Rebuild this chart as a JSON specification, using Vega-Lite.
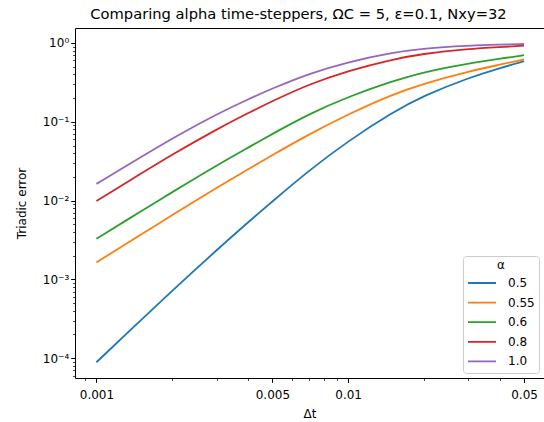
{
  "$schema": "https://vega.github.io/schema/vega-lite/v6.json",
  "width": 469,
  "height": 350,
  "autosize": {"type": "none"},
  "padding": {"left": 75, "top": 28, "right": 0, "bottom": 44},
  "background": "white",
  "title": {
    "text": "Comparing alpha time-steppers, ΩC = 5, ε=0.1, Nxy=32",
    "font": "DejaVu Sans",
    "fontSize": 14.7,
    "fontWeight": "normal",
    "color": "black",
    "anchor": "middle",
    "frame": "group",
    "dx": -11,
    "dy": 16,
    "baseline": "alphabetic",
    "offset": 10
  },
  "config": {
    "view": {"stroke": null},
    "font": "DejaVu Sans",
    "axis": {
      "grid": false,
      "domainColor": "black",
      "domainWidth": 1,
      "tickColor": "black",
      "labelColor": "black",
      "labelFont": "DejaVu Sans",
      "labelFontSize": 12,
      "titleFont": "DejaVu Sans",
      "titleFontSize": 12,
      "titleFontWeight": "normal",
      "titleColor": "black"
    }
  },
  "data": {
    "values": [
      {"alpha": "0.5", "dt": 0.001, "err": 0.0000887},
      {"alpha": "0.5", "dt": 0.0015, "err": 0.000303},
      {"alpha": "0.5", "dt": 0.002, "err": 0.000717},
      {"alpha": "0.5", "dt": 0.003, "err": 0.00235},
      {"alpha": "0.5", "dt": 0.004, "err": 0.00528},
      {"alpha": "0.5", "dt": 0.005, "err": 0.00977},
      {"alpha": "0.5", "dt": 0.007, "err": 0.0242},
      {"alpha": "0.5", "dt": 0.01, "err": 0.057},
      {"alpha": "0.5", "dt": 0.015, "err": 0.132},
      {"alpha": "0.5", "dt": 0.02, "err": 0.215},
      {"alpha": "0.5", "dt": 0.03, "err": 0.36},
      {"alpha": "0.5", "dt": 0.04, "err": 0.48},
      {"alpha": "0.5", "dt": 0.05, "err": 0.588},
      {"alpha": "0.55", "dt": 0.001, "err": 0.001642},
      {"alpha": "0.55", "dt": 0.0015, "err": 0.003685},
      {"alpha": "0.55", "dt": 0.002, "err": 0.00653},
      {"alpha": "0.55", "dt": 0.003, "err": 0.01457},
      {"alpha": "0.55", "dt": 0.004, "err": 0.02485},
      {"alpha": "0.55", "dt": 0.005, "err": 0.03784},
      {"alpha": "0.55", "dt": 0.007, "err": 0.0694},
      {"alpha": "0.55", "dt": 0.01, "err": 0.1245},
      {"alpha": "0.55", "dt": 0.015, "err": 0.2232},
      {"alpha": "0.55", "dt": 0.02, "err": 0.305},
      {"alpha": "0.55", "dt": 0.03, "err": 0.4352},
      {"alpha": "0.55", "dt": 0.04, "err": 0.53},
      {"alpha": "0.55", "dt": 0.05, "err": 0.6197},
      {"alpha": "0.6", "dt": 0.001, "err": 0.00328},
      {"alpha": "0.6", "dt": 0.0015, "err": 0.00728},
      {"alpha": "0.6", "dt": 0.002, "err": 0.01282},
      {"alpha": "0.6", "dt": 0.003, "err": 0.0279},
      {"alpha": "0.6", "dt": 0.004, "err": 0.0469},
      {"alpha": "0.6", "dt": 0.005, "err": 0.0702},
      {"alpha": "0.6", "dt": 0.007, "err": 0.126},
      {"alpha": "0.6", "dt": 0.01, "err": 0.208},
      {"alpha": "0.6", "dt": 0.015, "err": 0.328},
      {"alpha": "0.6", "dt": 0.02, "err": 0.43},
      {"alpha": "0.6", "dt": 0.03, "err": 0.55},
      {"alpha": "0.6", "dt": 0.04, "err": 0.63},
      {"alpha": "0.6", "dt": 0.05, "err": 0.70},
      {"alpha": "0.8", "dt": 0.001, "err": 0.00986},
      {"alpha": "0.8", "dt": 0.0015, "err": 0.0219},
      {"alpha": "0.8", "dt": 0.002, "err": 0.0385},
      {"alpha": "0.8", "dt": 0.003, "err": 0.080},
      {"alpha": "0.8", "dt": 0.004, "err": 0.129},
      {"alpha": "0.8", "dt": 0.005, "err": 0.183},
      {"alpha": "0.8", "dt": 0.007, "err": 0.30},
      {"alpha": "0.8", "dt": 0.01, "err": 0.445},
      {"alpha": "0.8", "dt": 0.015, "err": 0.62},
      {"alpha": "0.8", "dt": 0.02, "err": 0.735},
      {"alpha": "0.8", "dt": 0.03, "err": 0.84},
      {"alpha": "0.8", "dt": 0.04, "err": 0.888},
      {"alpha": "0.8", "dt": 0.05, "err": 0.924},
      {"alpha": "1.0", "dt": 0.001, "err": 0.0163},
      {"alpha": "1.0", "dt": 0.0015, "err": 0.0355},
      {"alpha": "1.0", "dt": 0.002, "err": 0.0615},
      {"alpha": "1.0", "dt": 0.003, "err": 0.125},
      {"alpha": "1.0", "dt": 0.004, "err": 0.193},
      {"alpha": "1.0", "dt": 0.005, "err": 0.265},
      {"alpha": "1.0", "dt": 0.007, "err": 0.41},
      {"alpha": "1.0", "dt": 0.01, "err": 0.575},
      {"alpha": "1.0", "dt": 0.015, "err": 0.755},
      {"alpha": "1.0", "dt": 0.02, "err": 0.855},
      {"alpha": "1.0", "dt": 0.03, "err": 0.925},
      {"alpha": "1.0", "dt": 0.04, "err": 0.954},
      {"alpha": "1.0", "dt": 0.05, "err": 0.971}
    ]
  },
  "layer": [
    {
      "mark": {"type": "line", "strokeWidth": 1.8, "interpolate": "basis"},
      "encoding": {
        "x": {
          "field": "dt",
          "type": "quantitative",
          "scale": {"type": "log", "domain": [0.000822, 0.06], "nice": false},
          "axis": {
            "orient": "bottom",
            "title": "Δt",
            "titleX": 234.5,
            "titleY": 39,
            "titleAlign": "center",
            "titleBaseline": "alphabetic",
            "values": [0.0009, 0.001, 0.002, 0.003, 0.004, 0.005, 0.006, 0.007, 0.008, 0.009, 0.01, 0.02, 0.03, 0.04, 0.05],
            "labelExpr": "indexof([0.001, 0.005, 0.01, 0.05], datum.value) >= 0 ? format(datum.value, '~g') : ''",
            "tickSize": {"condition": {"test": "indexof([0.001, 0.005, 0.01, 0.05], datum.value) >= 0", "value": 4.3}, "value": 2.4},
            "tickWidth": {"condition": {"test": "indexof([0.001, 0.005, 0.01, 0.05], datum.value) >= 0", "value": 1}, "value": 0.75},
            "labelPadding": 7,
            "labelFlush": false,
            "labelOverlap": false
          }
        },
        "y": {
          "field": "err",
          "type": "quantitative",
          "scale": {"type": "log", "domain": [0.000056, 1.55], "nice": false},
          "axis": {
            "title": "Triadic error",
            "titleX": -54,
            "titleY": 175,
            "titleAngle": -90,
            "titleAlign": "center",
            "titleBaseline": "middle",
            "values": [0.00006, 0.00007, 0.00008, 0.00009, 0.0001, 0.0002, 0.0003, 0.0004, 0.0005, 0.0006, 0.0007, 0.0008, 0.0009, 0.001, 0.002, 0.003, 0.004, 0.005, 0.006, 0.007, 0.008, 0.009, 0.01, 0.02, 0.03, 0.04, 0.05, 0.06, 0.07, 0.08, 0.09, 0.1, 0.2, 0.3, 0.4, 0.5, 0.6, 0.7, 0.8, 0.9, 1],
            "labelExpr": "abs(log(datum.value)/LN10 - round(log(datum.value)/LN10)) < 0.000001 ? '10' + (round(log(datum.value)/LN10) < 0 ? '⁻' : '') + ['⁰','¹','²','³','⁴','⁵'][abs(round(log(datum.value)/LN10))] : ''",
            "tickSize": {"condition": {"test": "abs(log(datum.value)/LN10 - round(log(datum.value)/LN10)) < 0.000001", "value": 4.3}, "value": 2.4},
            "tickWidth": {"condition": {"test": "abs(log(datum.value)/LN10 - round(log(datum.value)/LN10)) < 0.000001", "value": 1}, "value": 0.75},
            "labelPadding": 2,
            "labelFlush": false,
            "labelOverlap": false
          }
        },
        "color": {
          "field": "alpha",
          "type": "nominal",
          "scale": {
            "domain": ["0.5", "0.55", "0.6", "0.8", "1.0"],
            "range": ["#1f77b4", "#ff7f0e", "#2ca02c", "#d62728", "#9467bd"]
          },
          "legend": {
            "title": "α",
            "orient": "bottom-right",
            "offset": 5,
            "titleFont": "DejaVu Sans",
            "titleFontSize": 12,
            "titleFontWeight": "normal",
            "titleColor": "black",
            "titleAnchor": "middle",
            "titlePadding": 4,
            "labelFont": "DejaVu Sans",
            "labelFontSize": 12,
            "labelColor": "black",
            "symbolType": "stroke",
            "symbolSize": 784,
            "symbolStrokeWidth": 1.8,
            "clipHeight": 14,
            "rowPadding": 5.6,
            "labelOffset": 11,
            "padding": 4,
            "fillColor": "rgba(255,255,255,0.8)",
            "strokeColor": "#cccccc",
            "cornerRadius": 3
          }
        }
      }
    },
    {
      "mark": {"type": "line", "opacity": 0},
      "encoding": {
        "x": {
          "field": "dt",
          "type": "quantitative",
          "scale": {"type": "log", "domain": [0.000822, 0.06], "nice": false},
          "axis": {"orient": "top", "labels": false, "ticks": false, "title": null, "domain": true, "domainColor": "black"}
        },
        "y": {
          "field": "err",
          "type": "quantitative",
          "scale": {"type": "log", "domain": [0.000056, 1.55], "nice": false},
          "axis": null
        },
        "detail": {"field": "alpha", "type": "nominal"}
      }
    }
  ],
  "resolve": {"axis": {"x": "independent", "y": "independent"}}
}
